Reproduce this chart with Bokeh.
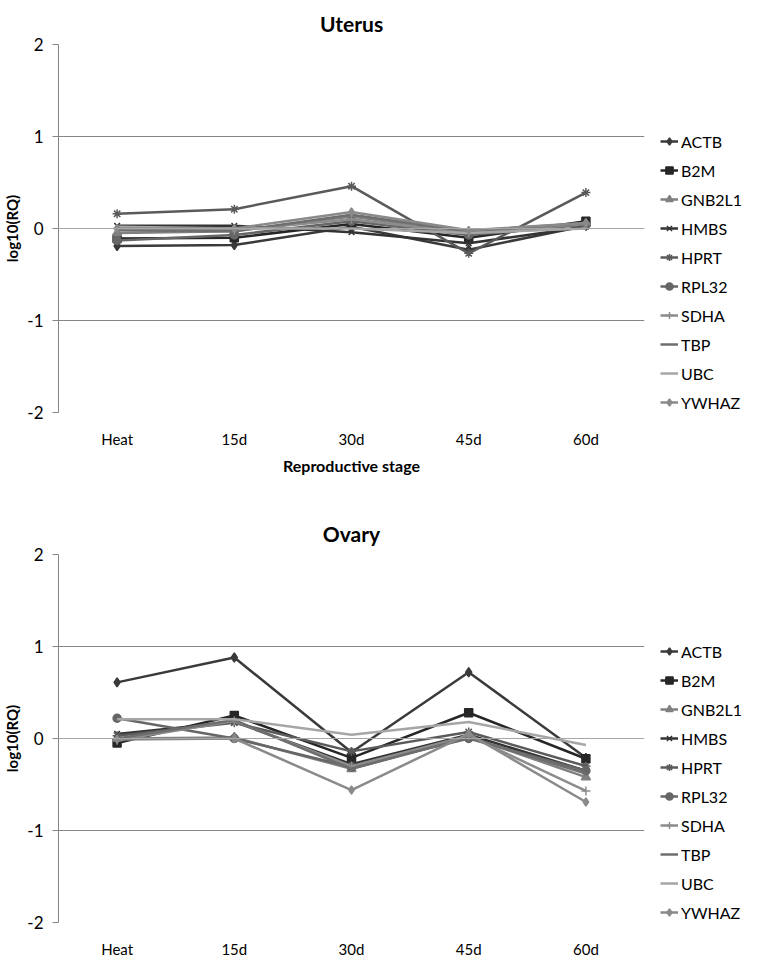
from bokeh.plotting import figure
from bokeh.layouts import column
from bokeh.models import Legend, LegendItem, Span, FixedTicker, Range1d, FactorRange
from bokeh.embed import file_html
from bokeh.resources import INLINE

stages = ["Heat", "15d", "30d", "45d", "60d"]
genes = ["ACTB", "B2M", "GNB2L1", "HMBS", "HPRT", "RPL32", "SDHA", "TBP", "UBC", "YWHAZ"]
y_ticks = [-2, -1, 0, 1, 2]
y_tick_labels = ["-2", "-1", "0", "1", "2"]

# Uterus log10(RQ)
u_actb = [-0.19, -0.18, 0.02, -0.23, 0.03]
u_b2m = [-0.11, -0.10, 0.05, -0.10, 0.08]
u_gnb2l1 = [-0.05, -0.03, 0.13, -0.05, 0.05]
u_hmbs = [0.03, 0.03, -0.04, -0.16, 0.02]
u_hprt = [0.16, 0.21, 0.46, -0.27, 0.39]
u_rpl32 = [-0.13, -0.07, 0.08, -0.07, 0.04]
u_sdha = [0.00, -0.02, 0.10, -0.05, 0.05]
u_tbp = [-0.02, -0.03, 0.15, -0.03, 0.06]
u_ubc = [0.02, 0.00, 0.00, -0.05, 0.00]
u_ywhaz = [0.00, 0.00, 0.18, -0.02, 0.06]

# Ovary log10(RQ)
o_actb = [0.61, 0.88, -0.15, 0.72, -0.21]
o_b2m = [-0.05, 0.25, -0.21, 0.28, -0.22]
o_gnb2l1 = [0.00, 0.01, -0.33, 0.02, -0.42]
o_hmbs = [0.05, 0.18, -0.28, 0.04, -0.35]
o_hprt = [0.03, 0.17, -0.14, 0.07, -0.30]
o_rpl32 = [0.22, 0.00, -0.31, 0.00, -0.35]
o_sdha = [-0.02, 0.19, -0.30, 0.03, -0.57]
o_tbp = [0.00, 0.20, -0.33, 0.01, -0.38]
o_ubc = [0.21, 0.21, 0.04, 0.18, -0.07]
o_ywhaz = [-0.01, 0.00, -0.56, 0.05, -0.69]

uterus = [u_actb, u_b2m, u_gnb2l1, u_hmbs, u_hprt, u_rpl32, u_sdha, u_tbp, u_ubc, u_ywhaz]
ovary = [o_actb, o_b2m, o_gnb2l1, o_hmbs, o_hprt, o_rpl32, o_sdha, o_tbp, o_ubc, o_ywhaz]

colors = ["#3a3a3a", "#262626", "#808080", "#333333", "#5a5a5a",
          "#666666", "#8c8c8c", "#6e6e6e", "#a6a6a6", "#8a8a8a"]
markers = ["diamond", "square", "triangle", "x", "asterisk",
           "circle", "cross", None, None, "diamond"]
msizes = [9, 8, 9, 8, 9, 8, 9, 0, 0, 8]

FONT = "Lato"


def make_plot(title, series, top, bottom, xlabel):
    p = figure(x_range=FactorRange(*stages, range_padding=0), y_range=Range1d(-2, 2),
               frame_width=586, frame_height=368, output_backend="svg", toolbar_location=None,
               min_border_left=53, min_border_right=104, min_border_top=top,
               min_border_bottom=bottom)
    p.title.text = title
    p.title.align = "center"
    p.title.text_font = FONT
    p.title.text_font_size = "21px"
    p.title.text_font_style = "bold"
    p.title.text_color = "black"
    p.title.standoff = 17
    p.outline_line_color = None
    p.background_fill_color = "white"
    p.border_fill_color = "white"

    p.xgrid.grid_line_color = None
    p.ygrid.ticker = FixedTicker(ticks=[-2, -1, 1, 2])
    p.ygrid.grid_line_color = "#868686"
    p.ygrid.grid_line_width = 1
    p.add_layout(Span(location=0, dimension="width", line_color="#a6a6a6", line_width=1))

    p.yaxis.ticker = FixedTicker(ticks=y_ticks)
    p.yaxis.major_label_overrides = dict(zip(y_ticks, y_tick_labels))
    p.yaxis.axis_line_color = "#868686"
    p.yaxis.major_tick_line_color = "#868686"
    p.yaxis.major_tick_out = 6
    p.yaxis.major_tick_in = 0
    p.yaxis.minor_tick_line_color = None
    p.yaxis.major_label_text_font = FONT
    p.yaxis.major_label_text_font_size = "17px"
    p.yaxis.major_label_text_color = "black"
    p.yaxis.major_label_standoff = 9
    p.yaxis.axis_label = "log10(RQ)"
    p.yaxis.axis_label_text_font = FONT
    p.yaxis.axis_label_text_font_size = "15px"
    p.yaxis.axis_label_text_font_style = "bold"
    p.yaxis.axis_label_text_color = "black"
    p.yaxis.axis_label_standoff = 3

    p.xaxis.axis_line_color = None
    p.xaxis.major_tick_line_color = None
    p.xaxis.major_label_text_font = FONT
    p.xaxis.major_label_text_font_size = "15px"
    p.xaxis.major_label_text_color = "black"
    p.xaxis.major_label_standoff = 11
    if xlabel:
        p.xaxis.axis_label = xlabel
        p.xaxis.axis_label_text_font = FONT
        p.xaxis.axis_label_text_font_size = "16px"
        p.xaxis.axis_label_text_font_style = "bold"
        p.xaxis.axis_label_text_color = "black"
        p.xaxis.axis_label_standoff = 5

    items = []
    for g, vals, c, m, s in zip(genes, series, colors, markers, msizes):
        r = [p.line(stages, vals, line_color=c, line_width=2.5)]
        if m is not None:
            r.append(p.scatter(stages, vals, marker=m, size=s, fill_color=c,
                               line_color=c, line_width=1.5))
        items.append(LegendItem(label=g, renderers=r))

    legend = Legend(items=items, location=(16, 0), orientation="vertical")
    legend.label_text_font = FONT
    legend.label_text_font_size = "16px"
    legend.label_text_color = "black"
    legend.glyph_width = 18
    legend.glyph_height = 20
    legend.label_height = 20
    legend.label_standoff = 3
    legend.spacing = 9
    legend.padding = 0
    legend.margin = 0
    legend.border_line_color = None
    legend.background_fill_alpha = 0
    p.add_layout(legend, "right")
    return p


p1 = make_plot("Uterus", uterus, 42, 80, "Reproductive stage")
p2 = make_plot("Ovary", ovary, 62, 29, None)

layout = column(p1, p2, spacing=0)
open("out.html", "w").write(file_html(layout, INLINE))
